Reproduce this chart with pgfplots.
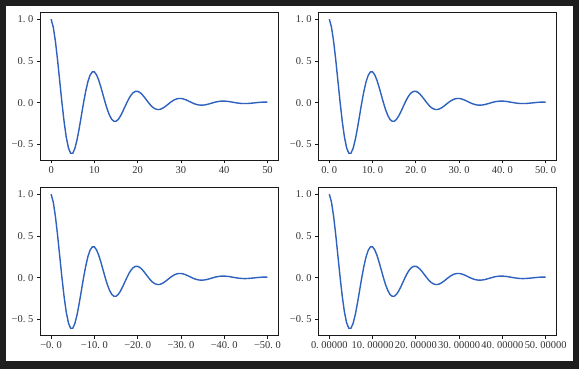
\documentclass[border=0pt]{standalone}
\usepackage{pgfplots}
\pgfplotsset{compat=1.18}
\usepackage{pgfplotstable}
\usepackage{fontspec}
\setmainfont{Liberation Serif}
\definecolor{bgdark}{RGB}{30,30,30}
\definecolor{curve}{RGB}{46,98,190}
\newcommand{\dd}{.\hspace{0.25em}}
\pgfplotstableread{
t y
0 1
0.5 0.904673
1 0.732029
1.5 0.505911
2 0.253002
2.5 0
3 -0.228925
3.5 -0.414205
4 -0.542300
4.5 -0.606421
5 -0.606531
5.5 -0.548712
6 -0.443999
6.5 -0.306851
7 -0.153454
7.5 0
8 0.138851
8.5 0.251229
9 0.328922
9.5 0.367813
10 0.367879
10.5 0.332810
11 0.269298
11.5 0.186114
12 0.093074
12.5 0
13 -0.084217
13.5 -0.152377
14 -0.199501
14.5 -0.223090
15 -0.223130
15.5 -0.201860
16 -0.163338
16.5 -0.112884
17 -0.056452
17.5 0
18 0.051080
18.5 0.092422
19 0.121003
19.5 0.135311
20 0.135335
20.5 0.122434
21 0.099069
21.5 0.068467
22 0.034240
22.5 0
23 -0.030982
23.5 -0.056056
24 -0.073392
24.5 -0.082070
25 -0.082085
25.5 -0.074260
26 -0.060089
26.5 -0.041528
27 -0.020768
27.5 0
28 0.018791
28.5 0.034000
29 0.044515
29.5 0.049778
30 0.049787
30.5 0.045041
31 0.036446
31.5 0.025188
32 0.012596
32.5 0
33 -0.011398
33.5 -0.020622
34 -0.027000
34.5 -0.030192
35 -0.030197
35.5 -0.027319
36 -0.022105
36.5 -0.015277
37 -0.007640
37.5 0
38 0.006913
38.5 0.012508
39 0.016376
39.5 0.018312
40 0.018316
40.5 0.016570
41 0.013408
41.5 0.009266
42 0.004634
42.5 0
43 -0.004193
43.5 -0.007587
44 -0.009933
44.5 -0.011107
45 -0.011109
45.5 -0.010050
46 -0.008132
46.5 -0.005620
47 -0.002811
47.5 0
48 0.002543
48.5 0.004601
49 0.006024
49.5 0.006737
50 0.006738
}\damped

\pgfplotsset{
  panel/.style={
    scale only axis,
    width=238bp, height=147.5bp,
    xmin=-2.5, xmax=52.5,
    ymin=-0.6878, ymax=1.0804,
    axis line style={line width=0.8bp, color=black!90},
    tick style={color=black!90, line width=0.8bp},
    tick align=outside,
    major tick length=3.5bp,
    xtick pos=lower, ytick pos=left,
    xtick={0,10,20,30,40,50},
    ytick={-0.5,0,0.5,1},
    yticklabels={−0\dd5, 0\dd0, 0\dd5, 1\dd0},
    tick label style={font=\fontsize{10.5}{12}\selectfont, text=black!80},
    anchor=south west,
  },
}

\begin{document}
\begin{tikzpicture}
\useasboundingbox (0,0) rectangle (579bp,369bp);
\fill[bgdark] (0,0) rectangle (579bp,369bp);
\fill[white] (6bp,8bp) rectangle (573bp,363bp);

\begin{axis}[panel, at={(40.3bp,209bp)},
  xticklabels={0,10,20,30,40,50}]
\addplot[curve, line width=1.4bp] table[x=t,y=y] {\damped};
\end{axis}

\begin{axis}[panel, at={(318.5bp,209bp)},
  xticklabels={0\dd0,10\dd0,20\dd0,30\dd0,40\dd0,50\dd0}]
\addplot[curve, line width=1.4bp] table[x=t,y=y] {\damped};
\end{axis}

\begin{axis}[panel, at={(40.3bp,34bp)},
  xticklabels={−0\dd0,−10\dd0,−20\dd0,−30\dd0,−40\dd0,−50\dd0}]
\addplot[curve, line width=1.4bp] table[x=t,y=y] {\damped};
\end{axis}

\begin{axis}[panel, at={(318.5bp,34bp)},
  xticklabels={0\dd00000,10\dd00000,20\dd00000,30\dd00000,40\dd00000,50\dd00000}]
\addplot[curve, line width=1.4bp] table[x=t,y=y] {\damped};
\end{axis}
\end{tikzpicture}
\end{document}
